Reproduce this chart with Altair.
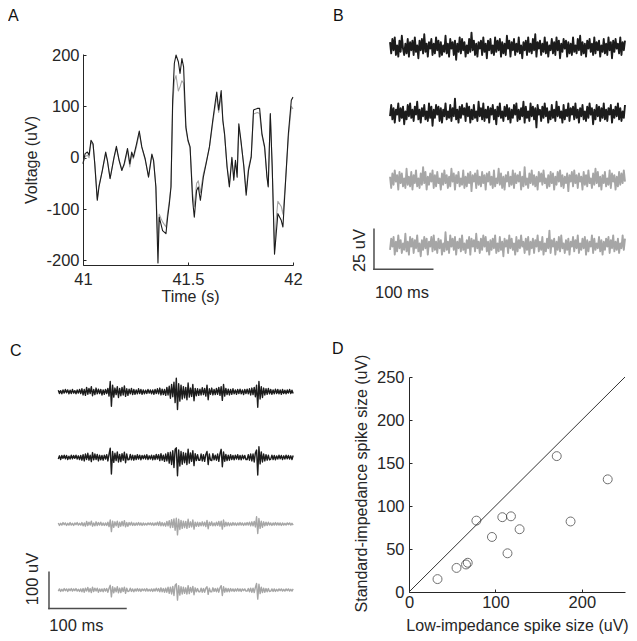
import altair as alt
import pandas as pd

FONT = "Liberation Sans"
INK = "#262626"
DARK = "#1c1c1c"
LIGHT = "#a6a6a6"
BAR = "#4d4d4d"

panel_letters = ["A", "B", "C", "D"]

# ---------------- Panel A : wide-band traces ----------------
a_time = [41.000, 41.010, 41.021, 41.029, 41.038, 41.048, 41.056, 41.068, 41.076, 41.092,
          41.108, 41.116, 41.129, 41.148, 41.159, 41.172, 41.185, 41.196, 41.212, 41.223,
          41.232, 41.240, 41.255, 41.268, 41.280, 41.296, 41.312, 41.328, 41.336, 41.347,
          41.357, 41.363, 41.371, 41.379, 41.395, 41.403, 41.411, 41.419, 41.427, 41.435,
          41.443, 41.454, 41.462, 41.471, 41.479, 41.490, 41.500, 41.510, 41.522, 41.530,
          41.541, 41.549, 41.559, 41.573, 41.586, 41.602, 41.618, 41.631, 41.637, 41.646,
          41.658, 41.666, 41.674, 41.686, 41.697, 41.709, 41.718, 41.726, 41.734, 41.742,
          41.752, 41.766, 41.777, 41.788, 41.801, 41.812, 41.830, 41.841, 41.852, 41.865,
          41.876, 41.882, 41.892, 41.901, 41.912, 41.920, 41.928, 41.944, 41.952, 41.963,
          41.978, 41.992, 42.000]
a_dark = [-12, 8, 11, 5, 34, 27, -12, -83, -57, -25,
          11, -5, -41, 1, 22, -5, -25, -12, 18, -12,
          11, 1, 27, 52, 21, -2, -38, 7, -5, -57,
          -205, -116, -129, -142, -148, -116, -90, -57, 112, 184,
          200, 187, 164, 193, 177, 60, 34, 21, -83, -116,
          -64, -57, -83, -38, -12, 21, 73, 112, 128, 93,
          131, 73, 47, -18, -57, 1, -44, -5, -38, 66,
          34, -18, -73, -25, 1, 93, 96, 96, 47, 21,
          -38, -57, 86, -18, -188, -148, -109, -122, -135, -57,
          47, 112, 118]
a_light = [-10, 2, 5, 0, 30, 25, -10, -80, -55, -25,
           8, -5, -40, 0, 18, -5, -22, -15, 14, -18,
           6, -2, 22, 48, 20, -4, -36, 5, -6, -55,
           -175, -110, -118, -125, -135, -108, -85, -55, 100, 150,
           160, 130, 138, 150, 145, 55, 32, 18, -70, -95,
           -50, -45, -68, -32, -10, 20, 68, 104, 118, 88,
           120, 70, 45, -16, -50, -2, -38, -8, -30, 60,
           30, -15, -66, -20, 3, 85, 88, 86, 44, 18,
           -35, -54, 84, -20, -180, -120, -85, -95, -110, -55,
           40, 100, 95]
a_xticks = [41, 41.5, 42]
a_yticks = [-200, -100, 0, 100, 200]

# ---------------- Panel B : noise traces (uV) ----------------
b_duration_ms = 400
b_dark1 = [3,-4,5,-2,6,-5,1,-6,4,-3,7,-1,-5,2,-4,5,-6,3,-2,4,
           -5,6,-3,1,-7,4,-2,5,-4,8,-3,2,-6,3,-1,5,-5,2,-4,6,
           -2,4,-6,3,-5,1,-3,7,-4,2,-6,5,-1,3,-5,4,-8,2,-3,6,
           -4,5,-2,3,-6,1,-4,5,-3,9,-2,4,-5,2,-6,3,-1,4,-5,6,
           -3,2,-7,4,-2,5,-4,1,-5,6,-3,4,-2,5,-6,3,-4,2,-5,7,
           -1,4,-6,3,-2,5,-5,2,-3,6,-4,1,-7,3,-2,4,-5,6,-3,2,
           -4,5,-2,8,-6,3,-1,4,-5,2,-3,6,-4,3,-6,1,-2,5,-4,3,
           -5,6,-2,4,-7,2,-3,5,-1,4,-6,3,-4,2,-5,6,-3,1,-4,5,
           -2,7,-5,3,-4,2,-6,4,-1,5,-3,2,-5,6,-4,3,-2,4,-6,1,
           -3,5,-4,2,-5,6,-2,3,-7,4,-3,5,-1,2,-4,6,-5,3,-2,4]
b_dark2 = [-2,5,-4,3,-6,2,-1,6,-5,3,-3,4,-7,1,-4,5,-2,6,-3,2,
           -5,4,-1,7,-4,2,-6,3,-2,5,-4,1,-5,6,-3,4,-8,2,-3,5,
           -1,4,-5,3,-6,2,-2,6,-4,1,-3,5,-5,3,-2,9,-4,2,-6,4,
           -3,5,-1,3,-5,6,-2,4,-6,2,-4,5,-3,1,-5,7,-2,3,-4,6,
           -5,2,-3,4,-6,3,-1,5,-4,2,-7,4,-2,6,-3,1,-5,4,-2,5,
           -4,3,-6,2,-3,5,-1,6,-5,2,-4,3,-2,7,-6,4,-3,1,-5,6,
           -2,4,-4,3,-9,5,-1,2,-5,4,-3,6,-2,3,-6,1,-4,5,-3,2,
           -5,7,-2,4,-3,1,-6,5,-4,2,-2,6,-5,3,-1,4,-4,6,-3,2,
           -6,3,-2,5,-4,1,-5,4,-3,6,-1,3,-7,2,-4,5,-2,4,-5,3,
           -3,6,-4,2,-5,3,-1,5,-6,2,-3,4,-2,6,-4,3,-5,1,-3,5]
b_light1 = [2,-5,4,-3,6,-1,3,-6,5,-2,4,-4,1,-5,7,-3,2,-4,5,-6,
            3,-2,6,-4,1,-5,4,-3,8,-2,5,-6,2,-3,4,-1,6,-5,3,-4,
            5,-2,1,-6,4,-3,6,-2,3,-5,2,-4,7,-1,4,-6,3,-2,5,-4,
            1,-3,6,-5,2,-4,4,-2,5,-7,3,-1,4,-5,6,-3,2,-4,5,-2,
            3,-6,4,-1,5,-3,2,-5,6,-4,1,-2,7,-3,4,-5,2,-6,3,-1,
            5,-4,2,-3,6,-5,4,-2,3,-1,5,-6,2,-4,8,-3,1,-5,4,-2,
            6,-3,3,-4,2,-6,5,-1,4,-3,6,-2,1,-5,3,-4,5,-2,4,-6,
            2,-3,5,-1,6,-4,3,-5,2,-2,4,-7,3,-1,5,-4,6,-2,3,-5,
            4,-1,2,-6,5,-3,3,-4,6,-2,1,-5,4,-3,7,-2,5,-4,2,-6,
            3,-2,5,-4,1,-3,6,-5,4,-1,3,-6,2,-4,5,-3,4,-2,6,-1]
b_light2 = [-3,4,-1,5,-6,2,-4,6,-2,3,-5,1,-3,7,-4,2,-6,5,-1,4,
            -5,3,-2,6,-4,1,-7,3,-3,5,-2,4,-6,2,-1,5,-4,6,-3,2,
            -5,4,-2,3,-6,1,-4,8,-3,2,-5,6,-1,4,-3,5,-6,2,-2,4,
            -4,6,-3,1,-5,3,-2,5,-6,4,-1,3,-4,7,-2,2,-5,4,-3,6,
            -1,5,-4,2,-6,3,-3,4,-2,6,-5,1,-4,5,-3,2,-7,4,-1,3,
            -5,6,-2,4,-3,1,-6,5,-4,3,-2,6,-1,2,-5,4,-3,5,-6,2,
            -2,4,-5,3,-1,6,-4,2,-3,5,-6,1,-4,4,-2,9,-5,3,-1,4,
            -6,2,-3,5,-4,6,-2,1,-5,3,-3,4,-6,2,-1,5,-4,3,-2,6,
            -5,1,-3,4,-2,5,-6,3,-4,2,-1,6,-5,4,-3,1,-2,5,-4,3,
            -6,2,-3,4,-1,5,-5,3,-2,6,-4,2,-3,4,-5,1,-2,6,-3,4]
b_bar_ms = 100
b_bar_uv = 25
b_bar_labels = ["25 uV", "100 ms"]

# ---------------- Panel C : spiking traces (uV) ----------------
c_duration_ms = 305
c_dark1 = [4,-5,3,-6,5,-4,6,-3,5,-6,4,-5,6,-4,3,-6,5,-4,6,-5,
           8,-9,6,-10,12,-7,9,-5,14,-11,6,-8,10,-6,7,-5,6,-9,5,-7,
           6,-5,9,-12,28,-40,18,-15,10,-8,14,-16,9,-11,12,-9,16,-13,8,-10,
           7,-6,9,-8,6,-7,5,-6,8,-5,6,-7,5,-6,4,-5,6,-4,5,-6,
           5,-7,6,-5,8,-6,10,-9,7,-8,6,-10,12,-9,15,-18,20,-14,26,-30,
           37,-49,22,-26,18,-20,14,-17,12,-22,24,-15,10,-13,20,-25,9,-11,8,-10,
           7,-9,11,-8,9,-12,18,-22,8,-7,10,-9,6,-8,9,-7,12,-10,14,-24,
           20,-12,9,-8,7,-9,6,-7,8,-6,5,-7,6,-5,7,-6,5,-8,6,-5,
           7,-6,8,-9,10,-8,12,-14,18,-43,28,-20,14,-16,10,-9,8,-7,9,-6,
           6,-7,5,-6,7,-5,6,-6,5,-7,6,-5,4,-6,5,-4,6,-5,4,-5]
c_dark2 = [-5,4,-6,5,-3,6,-4,5,-6,3,-5,6,-4,5,-3,6,-5,4,-6,5,
           -8,7,-10,9,-6,11,-8,6,-12,13,-7,9,-6,8,-10,6,-7,5,-8,6,
           -5,7,-10,9,25,-46,16,-14,11,-9,15,-13,8,-12,10,-8,14,-15,9,-7,
           -6,8,-7,6,-8,5,-6,7,-5,6,-7,5,-4,6,-5,7,-6,4,-5,6,
           -7,5,-6,8,-5,7,-9,10,-8,6,-11,9,-10,13,-16,14,-20,18,-28,22,
           26,-51,20,-24,16,-19,13,-15,11,-20,22,-16,12,-11,18,-23,10,-9,7,-8,
           -8,9,-10,7,-11,8,16,-20,9,-8,-9,10,-7,6,-8,9,-11,10,22,-26,
           15,-11,8,-9,6,-8,7,-6,5,-7,6,-5,7,-6,5,-7,6,-4,5,-6,
           -6,7,-8,9,-10,9,-13,12,20,-49,29,-18,15,-13,9,-10,7,-8,6,-7,
           -5,6,-6,5,-7,4,-5,6,-4,5,-6,4,-5,6,-4,5,-5,4,-6,5]
c_light1 = [3,-4,2,-3,4,-2,3,-4,2,-3,4,-3,2,-4,3,-2,4,-3,2,-3,
            4,-5,3,-6,7,-4,5,-3,8,-6,3,-5,6,-4,4,-3,5,-4,3,-4,
            3,-4,5,-7,11,-21,8,-9,6,-5,8,-9,5,-6,7,-5,9,-8,4,-6,
            4,-3,5,-4,3,-4,3,-3,4,-3,3,-4,3,-3,2,-3,3,-2,3,-3,
            3,-4,3,-3,5,-4,6,-5,4,-5,3,-6,7,-5,9,-10,12,-9,14,-17,
            16,-30,13,-15,10,-12,8,-10,7,-12,13,-9,6,-8,11,-14,5,-6,5,-6,
            4,-5,6,-5,5,-7,10,-13,5,-4,6,-5,3,-5,5,-4,7,-6,8,-14,
            11,-7,5,-5,4,-5,3,-4,4,-3,3,-4,3,-3,4,-3,3,-4,3,-3,
            4,-3,5,-5,6,-5,7,-8,20,-26,15,-12,8,-9,6,-5,5,-4,5,-3,
            3,-4,3,-3,4,-3,3,-3,3,-4,3,-3,2,-3,3,-2,3,-3,2,-3]
c_light2 = [-3,3,-4,2,-3,4,-2,3,-4,3,-2,4,-3,3,-2,4,-3,2,-4,3,
            -5,4,-6,5,-3,7,-5,4,-7,8,-4,5,-3,5,-6,3,-4,3,-5,4,
            -3,4,-6,5,13,-19,9,-8,6,-5,9,-8,5,-7,6,-4,8,-9,5,-4,
            -3,5,-4,3,-5,3,-3,4,-3,3,-4,3,-2,3,-3,4,-3,2,-3,3,
            -4,3,-3,5,-3,4,-5,6,-5,4,-6,5,-6,8,-9,8,-11,10,-15,13,
            17,-28,12,-14,9,-11,8,-9,6,-11,12,-10,7,-6,10,-13,6,-5,4,-5,
            -5,5,-6,4,-6,5,9,-12,5,-5,-5,6,-4,4,-5,5,-6,6,12,-15,
            9,-6,5,-5,4,-5,4,-3,3,-4,3,-3,4,-3,3,-4,3,-2,3,-3,
            -3,4,-5,5,-6,5,-7,7,18,-25,16,-10,8,-7,5,-6,4,-5,4,-4,
            -3,3,-4,3,-4,2,-3,3,-2,3,-3,2,-3,3,-2,3,-3,2,-3,3]
c_bar_ms = 100
c_bar_uv = 100
c_bar_labels = ["100 uV", "100 ms"]

# ---------------- Panel D : spike sizes ----------------
d_low = [33, 55, 66, 68, 78, 96, 108, 118, 114, 128, 171, 187, 230]
d_std = [15, 28, 32, 34, 83, 64, 87, 88, 45, 73, 158, 82, 131]
d_identity = [0, 250]
d_xticks = [0, 100, 200]
d_yticks = [0, 50, 100, 150, 200, 250]
d_xtitle = "Low-impedance spike size (uV)"
d_ytitle = "Standard-impedance spike size (uV)"

NEG = "datum.value < 0 ? '-' + abs(datum.value) : '' + datum.value"


def main_axis(orient, values, title, label_pad, title_x, title_y, fmt=None, expr=None):
    kw = dict(orient=orient, values=values, title=title, grid=False, ticks=False, tickSize=0,
              domain=True, domainColor=INK, domainWidth=1, labelColor=INK, labelFont=FONT,
              labelFontSize=16.5, labelPadding=label_pad, labelFlush=False, labelOverlap=False,
              titleColor=INK, titleFont=FONT, titleFontSize=16, titleFontWeight="normal",
              titleX=title_x, titleY=title_y, titleBaseline="alphabetic", titleAlign="center")
    if orient == "left":
        kw["titleAngle"] = 270
    if fmt:
        kw["format"] = fmt
    if expr:
        kw["labelExpr"] = expr
    return alt.Axis(**kw)


def tick_axis(orient, values, offset):
    return alt.Axis(orient=orient, values=values, offset=offset, labels=False, domain=False,
                    ticks=True, tickSize=3, tickColor=INK, tickWidth=1, grid=False, title=None)


def letter(ch, dx, dy):
    return alt.Chart(pd.DataFrame({"s": [ch]})).mark_text(
        align="left", baseline="top", font=FONT, fontSize=16, color="#111111"
    ).encode(text="s:N", x=alt.value(dx), y=alt.value(dy))


# ---- Panel A chart
nA = min(len(a_time), len(a_dark), len(a_light))
dfA = pd.DataFrame({"t": a_time[:nA], "dark": a_dark[:nA], "light": a_light[:nA]})
sxA = alt.Scale(domain=[41, 42], nice=False, zero=False)
syA = alt.Scale(domain=[-209, 202], nice=False, zero=False)
A_light = alt.Chart(dfA).mark_line(color=LIGHT, strokeWidth=1.1, strokeJoin="round").encode(
    x=alt.X("t:Q", scale=sxA, axis=main_axis("bottom", a_xticks, "Time (s)", 6, 107, 36, fmt="~g")),
    y=alt.Y("light:Q", scale=syA, axis=main_axis("left", a_yticks, "Voltage (uV)", 4, -47, 105.5, expr=NEG)),
)
A_dark = alt.Chart(dfA).mark_line(color=DARK, strokeWidth=1.1, strokeJoin="round").encode(
    x=alt.X("t:Q", scale=sxA, axis=tick_axis("top", a_xticks, -211)),
    y=alt.Y("dark:Q", scale=syA, axis=tick_axis("right", a_yticks, -210)),
)
panelA = alt.layer(A_light, A_dark, letter(panel_letters[0], -75, -46)).resolve_axis(
    x="independent", y="independent").properties(width=210, height=211)


def trace_panel(traces, offsets, colors, duration, sx, sy, bar_anchor, bar_ms, bar_uv,
                labels, label_pos, letter_spec, w, h, lw):
    rows = []
    for k, (arr, off) in enumerate(zip(traces, offsets)):
        n = len(arr)
        for i, v in enumerate(arr):
            rows.append({"t": i * duration / (n - 1), "y": v + off, "trace": "tr%d" % k})
    df = pd.DataFrame(rows)
    names = ["tr%d" % k for k in range(len(traces))]
    lines = alt.Chart(df).mark_line(strokeWidth=lw, strokeJoin="round").encode(
        x=alt.X("t:Q", scale=sx, axis=None),
        y=alt.Y("y:Q", scale=sy, axis=None),
        color=alt.Color("trace:N", scale=alt.Scale(domain=names, range=colors), legend=None),
    )
    t0, v0 = bar_anchor
    bar = pd.DataFrame({"t0": [t0], "t1": [t0 + bar_ms], "v0": [v0], "v1": [v0 - bar_uv]})
    vert = alt.Chart(bar).mark_rule(color=BAR, strokeWidth=1.5, strokeCap="square").encode(
        x=alt.X("t0:Q", scale=sx, axis=None), y=alt.Y("v0:Q", scale=sy, axis=None), y2="v1:Q")
    horiz = alt.Chart(bar).mark_rule(color=BAR, strokeWidth=1.5, strokeCap="square").encode(
        x=alt.X("t0:Q", scale=sx, axis=None), x2="t1:Q", y=alt.Y("v1:Q", scale=sy, axis=None))
    (tu, vu), (tm, vm) = label_pos
    lab_v = alt.Chart(pd.DataFrame({"t": [tu], "v": [vu], "s": [labels[0]]})).mark_text(
        angle=270, align="center", baseline="alphabetic", font=FONT, fontSize=16.5, color=INK
    ).encode(x=alt.X("t:Q", scale=sx, axis=None), y=alt.Y("v:Q", scale=sy, axis=None), text="s:N")
    lab_h = alt.Chart(pd.DataFrame({"t": [tm], "v": [vm], "s": [labels[1]]})).mark_text(
        align="left", baseline="alphabetic", font=FONT, fontSize=16.5, color=INK
    ).encode(x=alt.X("t:Q", scale=sx, axis=None), y=alt.Y("v:Q", scale=sy, axis=None), text="s:N")
    return alt.layer(lines, vert, horiz, lab_v, lab_h, letter(*letter_spec)).properties(width=w, height=h)


panelB = trace_panel(
    [b_dark1, b_dark2, b_light1, b_light2], [0, -41.25, -83.1, -123.75],
    [DARK, DARK, LIGHT, LIGHT], b_duration_ms,
    alt.Scale(domain=[32.3, 400], nice=False, zero=False),
    alt.Scale(domain=[-136.25, -4.375], nice=False, zero=False),
    (-27.3, -113.9), b_bar_ms, b_bar_uv, b_bar_labels,
    ((-42.9, -127.2), (-25.6, -156.7)), (panel_letters[1], -76, -46), 216, 211, 1.9)

panelC = trace_panel(
    [c_dark1, c_dark2, c_light1, c_light2], [0, -180.7, -364.5, -546.3],
    [DARK, DARK, LIGHT, LIGHT], c_duration_ms,
    alt.Scale(domain=[32.08, 304.8], nice=False, zero=False),
    alt.Scale(domain=[-551.8, 40.5], nice=False, zero=False),
    (-12.08, -497.5), c_bar_ms, c_bar_uv, c_bar_labels,
    ((-26.1, -516), (-11.7, -660.6)), (panel_letters[2], -73, -34), 210, 215, 1.4)

# ---- Panel D chart
dfD = pd.DataFrame({"low": d_low, "std": d_std})
dfI = pd.DataFrame({"x": d_identity, "y": d_identity})
sxD = alt.Scale(domain=[0, 250], nice=False, zero=False)
syD = alt.Scale(domain=[0, 250], nice=False, zero=False)
D_pts = alt.Chart(dfD).mark_point(shape="circle", filled=False, size=80, strokeWidth=1, color="#333333").encode(
    x=alt.X("low:Q", scale=sxD, axis=main_axis("bottom", d_xticks, d_xtitle, 2, 108, 38)),
    y=alt.Y("std:Q", scale=syD, axis=main_axis("left", d_yticks, d_ytitle, 5, -42.5, 106)),
)
D_line = alt.Chart(dfI).mark_line(color="#333333", strokeWidth=1).encode(
    x=alt.X("x:Q", scale=sxD, axis=tick_axis("top", d_xticks, -215)),
    y=alt.Y("y:Q", scale=syD, axis=tick_axis("right", d_yticks, -216)),
)
panelD = alt.layer(D_line, D_pts, letter(panel_letters[3], -77, -36)).resolve_axis(
    x="independent", y="independent").properties(width=216, height=215)

chart = alt.concat(
    panelA, panelB, panelC, panelD, columns=2,
    spacing={"row": 112, "column": 116}, bounds="flush", align="each"
).properties(padding=0).configure_view(stroke=None)

chart.save("out.html", embed_options={"renderer": "svg", "actions": False})
